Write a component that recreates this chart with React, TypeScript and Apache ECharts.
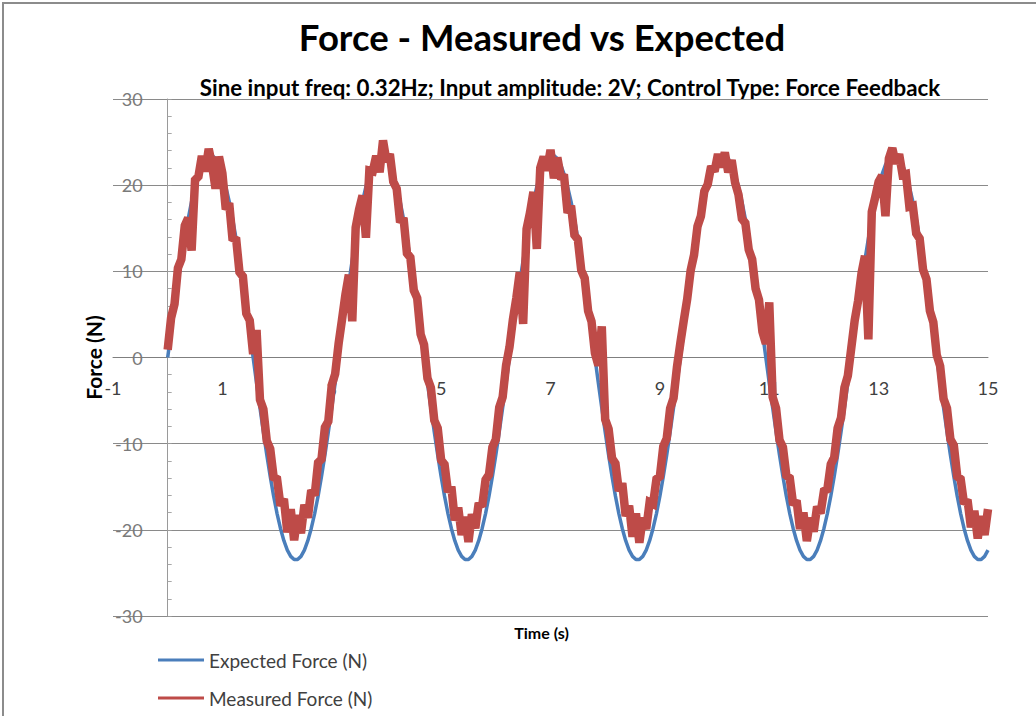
import React, { useEffect, useRef } from "react";
import * as echarts from "echarts";

const TITLE = "Force - Measured vs Expected";
const SUBTITLE = "Sine input freq: 0.32Hz; Input amplitude: 2V; Control Type: Force Feedback";
const X_NAME = "Time (s)";
const Y_NAME = "Force (N)";
const SERIES_NAMES = ["Expected Force (N)", "Measured Force (N)"];
const X_TICK_LABELS = [-1, 1, 3, 5, 7, 9, 11, 13, 15];
const X_MIN = -1;
const X_MAX = 15;
const Y_MIN = -30;
const Y_MAX = 30;
const Y_STEP = 10;

// samples every 0.0625 s from t = 0 to t = 15
const TIME_START = 0;
const TIME_STEP = 0.0625;

const expectedForce = [
  0, 2.95, 5.84, 8.65, 11.32, 13.81, 16.09, 18.11, 19.84, 21.26,
  22.35, 23.08, 23.45, 23.45, 23.08, 22.35, 21.26, 19.84, 18.11, 16.09,
  13.81, 11.32, 8.65, 5.84, 2.95, 0, -2.95, -5.84, -8.65, -11.32,
  -13.81, -16.09, -18.11, -19.84, -21.26, -22.35, -23.08, -23.45, -23.45, -23.08,
  -22.35, -21.26, -19.84, -18.11, -16.09, -13.81, -11.32, -8.65, -5.84, -2.95,
  0, 2.95, 5.84, 8.65, 11.32, 13.81, 16.09, 18.11, 19.84, 21.26,
  22.35, 23.08, 23.45, 23.45, 23.08, 22.35, 21.26, 19.84, 18.11, 16.09,
  13.81, 11.32, 8.65, 5.84, 2.95, 0, -2.95, -5.84, -8.65, -11.32,
  -13.81, -16.09, -18.11, -19.84, -21.26, -22.35, -23.08, -23.45, -23.45, -23.08,
  -22.35, -21.26, -19.84, -18.11, -16.09, -13.81, -11.32, -8.65, -5.84, -2.95,
  0, 2.95, 5.84, 8.65, 11.32, 13.81, 16.09, 18.11, 19.84, 21.26,
  22.35, 23.08, 23.45, 23.45, 23.08, 22.35, 21.26, 19.84, 18.11, 16.09,
  13.81, 11.32, 8.65, 5.84, 2.95, 0, -2.95, -5.84, -8.65, -11.32,
  -13.81, -16.09, -18.11, -19.84, -21.26, -22.35, -23.08, -23.45, -23.45, -23.08,
  -22.35, -21.26, -19.84, -18.11, -16.09, -13.81, -11.32, -8.65, -5.84, -2.95,
  0, 2.95, 5.84, 8.65, 11.32, 13.81, 16.09, 18.11, 19.84, 21.26,
  22.35, 23.08, 23.45, 23.45, 23.08, 22.35, 21.26, 19.84, 18.11, 16.09,
  13.81, 11.32, 8.65, 5.84, 2.95, 0, -2.95, -5.84, -8.65, -11.32,
  -13.81, -16.09, -18.11, -19.84, -21.26, -22.35, -23.08, -23.45, -23.45, -23.08,
  -22.35, -21.26, -19.84, -18.11, -16.09, -13.81, -11.32, -8.65, -5.84, -2.95,
  0, 2.95, 5.84, 8.65, 11.32, 13.81, 16.09, 18.11, 19.84, 21.26,
  22.35, 23.08, 23.45, 23.45, 23.08, 22.35, 21.26, 19.84, 18.11, 16.09,
  13.81, 11.32, 8.65, 5.84, 2.95, 0, -2.95, -5.84, -8.65, -11.32,
  -13.81, -16.09, -18.11, -19.84, -21.26, -22.35, -23.08, -23.45, -23.45, -23.08,
  -22.35,
];

const measuredForce = [
  0.9, 4.6, 6.2, 10.4, 11.4, 15.3, 16.2, 12.4, 20.6, 21.0,
  23.4, 21.6, 24.2, 22.3, 19.6, 23.3, 21.4, 17.2, 17.9, 13.6,
  13.9, 9.9, 9.4, 5.1, 4.3, 0.4, 3.2, -4.9, -6.0, -9.7,
  -10.6, -13.9, -14.1, -17.2, -16.4, -20.3, -17.6, -21.2, -18.3, -20.4,
  -17.1, -18.6, -15.4, -16.0, -12.2, -11.8, -8.1, -7.4, -3.2, -1.9,
  1.6, 4.4, 7.3, 9.6, 4.2, 15.1, 17.2, 18.8, 13.9, 21.7,
  21.6, 23.4, 21.5, 25.2, 22.8, 23.6, 20.4, 19.6, 15.7, 16.2,
  12.1, 11.6, 7.8, 6.9, 2.7, 1.5, -2.4, -3.5, -7.3, -8.2,
  -11.9, -12.4, -15.6, -15.0, -18.9, -17.4, -20.6, -18.5, -21.4, -18.2,
  -19.8, -16.9, -17.3, -14.2, -13.6, -10.4, -9.5, -5.8, -4.6, -0.9,
  1.2, 4.4, 6.9, 9.9, 3.9, 14.9, 16.8, 19.2, 12.6, 22.0,
  23.3, 21.7, 24.1, 20.8, 23.2, 21.0, 20.9, 16.8, 17.6, 14.2,
  13.7, 10.1, 9.2, 5.4, 4.2, 0.5, -0.9, 3.6, -7.2, -8.3,
  -11.7, -12.3, -15.5, -14.6, -18.4, -17.2, -20.8, -18.1, -21.5, -18.6,
  -19.9, -16.8, -17.0, -14.1, -13.8, -10.3, -9.4, -5.9, -4.7, -1.1,
  1.7, 4.3, 6.8, 10.1, 11.9, 15.2, 16.4, 19.3, 20.1, 22.2,
  21.6, 23.6, 22.1, 23.8, 21.5, 22.9, 20.3, 18.9, 16.1, 15.6,
  12.5, 11.4, 8.0, 6.7, 3.0, 1.6, 6.4, -4.6, -5.9, -9.6,
  -10.4, -13.7, -14.0, -17.1, -16.6, -19.9, -18.0, -21.3, -18.6, -20.2,
  -17.3, -18.1, -15.5, -15.3, -12.4, -11.6, -8.2, -7.0, -3.5, -2.1,
  1.1, 4.3, 6.6, 9.8, 11.8, 2.1, 16.9, 18.6, 20.4, 21.1,
  16.4, 23.1, 24.3, 22.5, 23.6, 21.2, 21.3, 17.5, 17.6, 14.4,
  13.8, 10.2, 9.1, 5.4, 4.1, 0.3, -1.0, -4.8, -5.9, -9.5,
  -10.2, -13.8, -14.1, -17.0, -16.5, -19.7, -17.8, -21.0, -18.4, -20.6,
  -17.6,
];

const FONT = "Lato, 'Noto Sans', sans-serif";

// plot geometry (pixels)
const GRID_LEFT = 113;
const GRID_RIGHT = 48;
const GRID_TOP = 99;
const GRID_BOTTOM = 100;
const CHART_W = 1036;
const CHART_H = 716;

export default function App() {
  const ref = useRef<HTMLDivElement | null>(null);

  useEffect(() => {
    if (!ref.current) return;
    const chart = echarts.init(ref.current, undefined, { renderer: "svg" });
    const toPairs = (arr: number[]) => arr.map((v, i) => [TIME_START + i * TIME_STEP, v]);

    const plotW = CHART_W - GRID_LEFT - GRID_RIGHT;
    const plotH = CHART_H - GRID_TOP - GRID_BOTTOM;
    // move the axes so they cross at (0, 0), as in the original
    const yAxisOffset = -((0 - X_MIN) / (X_MAX - X_MIN)) * plotW;
    const xAxisOffset = -((0 - Y_MIN) / (Y_MAX - Y_MIN)) * plotH;

    chart.setOption({
      animation: false,
      backgroundColor: "#ffffff",
      textStyle: { fontFamily: FONT },
      graphic: [
        {
          type: "rect",
          z: -1,
          shape: { x: 3, y: 3, width: 1200, height: 900 },
          style: { fill: "none", stroke: "#8c8c8c", lineWidth: 2 },
        },
        {
          type: "text",
          x: 542,
          y: 37,
          style: {
            text: TITLE,
            fill: "#000000",
            font: `bold 36.5px ${FONT}`,
            textAlign: "center",
            textVerticalAlign: "middle",
          },
        },
        {
          type: "text",
          x: 570,
          y: 87,
          style: {
            text: SUBTITLE,
            fill: "#000000",
            font: `bold 22.3px ${FONT}`,
            textAlign: "center",
            textVerticalAlign: "middle",
          },
        },
      ],
      legend: {
        orient: "vertical",
        left: 158,
        top: 649,
        padding: 0,
        icon: "rect",
        itemWidth: 46,
        itemHeight: 3,
        itemGap: 16,
        data: SERIES_NAMES,
        textStyle: { fontSize: 19, lineHeight: 22, color: "#404040", fontFamily: FONT },
      },
      grid: {
        left: GRID_LEFT,
        right: GRID_RIGHT,
        top: GRID_TOP,
        bottom: GRID_BOTTOM,
        containLabel: false,
        outerBoundsMode: "none",
      },
      xAxis: {
        type: "value",
        min: X_MIN,
        max: X_MAX,
        interval: 1,
        offset: xAxisOffset,
        name: X_NAME,
        nameLocation: "middle",
        nameGap: 267,
        nameTextStyle: {
          fontSize: 16,
          fontWeight: "bold",
          color: "#000000",
          fontFamily: FONT,
          padding: [0, 18, 0, 0],
        },
        axisLine: { show: true, onZero: false, lineStyle: { color: "#7f7f7f", width: 1 } },
        axisTick: { show: false },
        splitLine: { show: false },
        axisLabel: {
          margin: 21,
          fontSize: 18,
          color: "#404040",
          fontFamily: FONT,
          formatter: (v: number) => (X_TICK_LABELS.includes(v) ? String(v) : ""),
        },
      },
      yAxis: {
        type: "value",
        min: Y_MIN,
        max: Y_MAX,
        interval: Y_STEP,
        offset: yAxisOffset,
        name: Y_NAME,
        nameLocation: "middle",
        nameGap: 60,
        nameTextStyle: { fontSize: 21, fontWeight: "bold", color: "#000000", fontFamily: FONT },
        axisLine: { show: true, onZero: false, lineStyle: { color: "#9a9a9a", width: 1 } },
        axisTick: { show: true, inside: true, length: 4, lineStyle: { color: "#9a9a9a" } },
        minorTick: { show: true, splitNumber: 5, length: 4, lineStyle: { color: "#a8a8a8" } },
        splitLine: { show: true, lineStyle: { color: "#8a8a8a", width: 1 } },
        axisLabel: { margin: 25, fontSize: 18, color: "#7a7a7a", fontFamily: FONT },
      },
      series: [
        {
          name: SERIES_NAMES[0],
          type: "line",
          data: toPairs(expectedForce),
          showSymbol: false,
          symbol: "none",
          color: "#4a7ebb",
          lineStyle: { color: "#4a7ebb", width: 3.5 },
          z: 2,
        },
        {
          name: SERIES_NAMES[1],
          type: "line",
          data: toPairs(measuredForce),
          showSymbol: false,
          symbol: "none",
          color: "#be4b48",
          lineStyle: { color: "#be4b48", width: 8.5, join: "miter", miterLimit: 2 },
          z: 3,
        },
      ],
    });

    return () => chart.dispose();
  }, []);

  return (
    <div
      ref={ref}
      style={{ position: "fixed", left: 0, top: 0, width: CHART_W, height: CHART_H, background: "#ffffff" }}
    />
  );
}
